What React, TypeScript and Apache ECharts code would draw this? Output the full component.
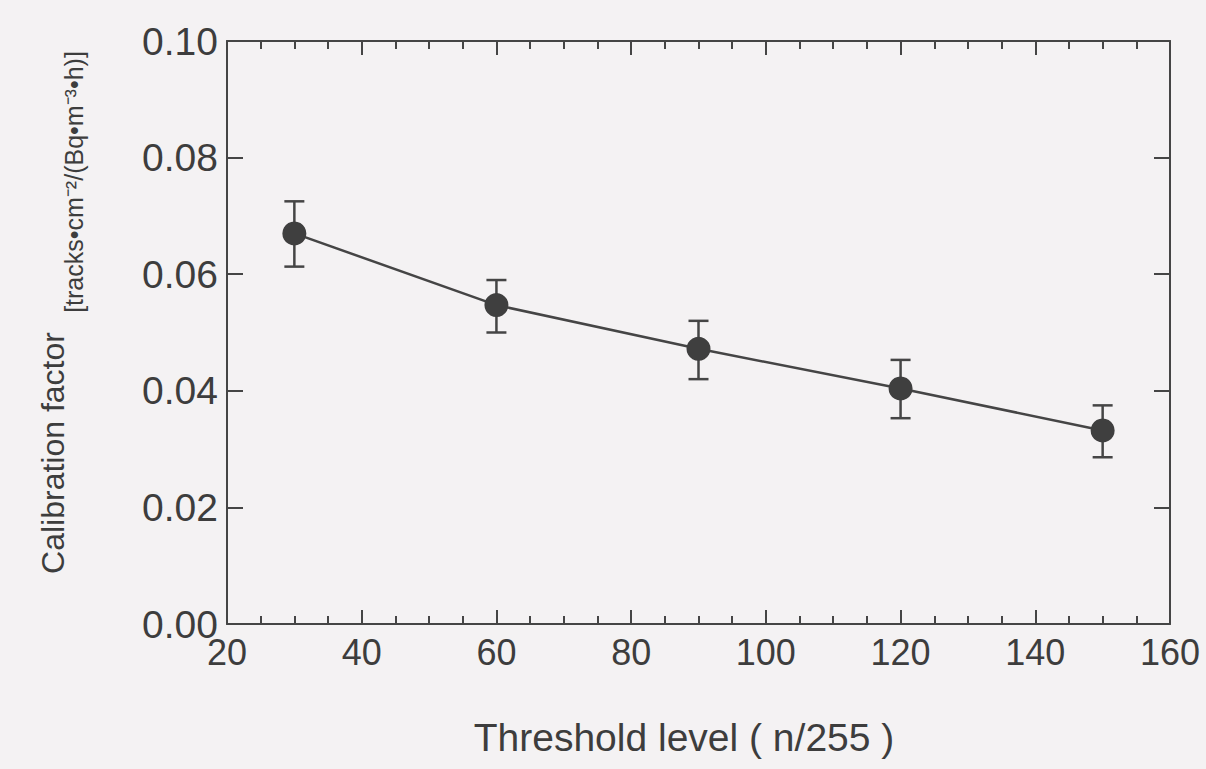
import React, { useEffect, useRef } from "react";
import * as echarts from "echarts";

// ---- data ----
const thresholds = [30, 60, 90, 120, 150];
const calibration = [0.067, 0.0547, 0.0472, 0.0404, 0.0332];
const errLow = [0.0613, 0.05, 0.042, 0.0353, 0.0286];
const errHigh = [0.0725, 0.059, 0.052, 0.0453, 0.0375];

const xMin = 20;
const xMax = 160;
const xStep = 20;
const yMin = 0;
const yMax = 0.1;
const yStep = 0.02;

const xTitle = "Threshold level ( n/255 )";
const yTitleMain = "Calibration factor";
const yTitleUnit = "[tracks•cm⁻²/(Bq•m⁻³•h)]";

const INK = "#454545";
const TEXT = "#3d3d3d";
const BG = "#f4f2f3";
const FONT = "'Liberation Sans', Arial, Helvetica, sans-serif";

export default function App() {
  const ref = useRef<HTMLDivElement>(null);

  useEffect(() => {
    if (!ref.current) return;
    const chart = echarts.init(ref.current, null, { renderer: "svg" });

    const lineStyle = { color: INK, width: 2 };
    const baseX = {
      type: "value" as const,
      min: xMin,
      max: xMax,
      interval: xStep,
      axisLine: { show: true, onZero: false, lineStyle },
      axisTick: { show: true, inside: true, length: 14, lineStyle },
      minorTick: { show: true, splitNumber: 4, length: 8, lineStyle },
      splitLine: { show: false },
      minorSplitLine: { show: false },
    };
    const baseY = {
      type: "value" as const,
      min: yMin,
      max: yMax,
      interval: yStep,
      axisLine: { show: true, onZero: false, lineStyle },
      axisTick: { show: true, inside: true, length: 16, lineStyle },
      splitLine: { show: false },
    };

    chart.setOption({
      animation: false,
      backgroundColor: BG,
      grid: { left: 227, right: 36, top: 41, bottom: 145, containLabel: false },
      xAxis: [
        {
          ...baseX,
          position: "bottom",
          axisLabel: {
            show: true,
            fontSize: 36,
            lineHeight: 30,
            color: TEXT,
            fontFamily: FONT,
            margin: 13,
          },
        },
        {
          ...baseX,
          position: "top",
          axisLabel: { show: false },
        },
      ],
      yAxis: [
        {
          ...baseY,
          position: "left",
          axisLabel: {
            show: true,
            fontSize: 39,
            lineHeight: 24,
            color: TEXT,
            fontFamily: FONT,
            margin: 9,
            formatter: (v: number) => v.toFixed(2),
          },
        },
        {
          ...baseY,
          position: "right",
          axisLabel: { show: false },
        },
      ],
      series: [
        {
          type: "custom",
          xAxisIndex: 0,
          yAxisIndex: 0,
          z: 1,
          data: thresholds.map((x, i) => [x, errLow[i], errHigh[i]]),
          encode: { x: 0, y: [1, 2] },
          renderItem: (_params: any, api: any) => {
            const x = api.value(0);
            const lo = api.coord([x, api.value(1)]);
            const hi = api.coord([x, api.value(2)]);
            const hw = 10;
            const st = { stroke: INK, lineWidth: 2.5 };
            return {
              type: "group",
              children: [
                { type: "line", shape: { x1: lo[0], y1: lo[1], x2: hi[0], y2: hi[1] }, style: st },
                { type: "line", shape: { x1: lo[0] - hw, y1: lo[1], x2: lo[0] + hw, y2: lo[1] }, style: st },
                { type: "line", shape: { x1: hi[0] - hw, y1: hi[1], x2: hi[0] + hw, y2: hi[1] }, style: st },
              ],
            };
          },
        },
        {
          type: "line",
          xAxisIndex: 0,
          yAxisIndex: 0,
          z: 3,
          data: thresholds.map((x, i) => [x, calibration[i]]),
          symbol: "circle",
          symbolSize: 24,
          showSymbol: true,
          lineStyle: { color: INK, width: 2.5 },
          itemStyle: { color: "#3f3f3f", borderWidth: 0 },
        },
      ],
      graphic: [
        {
          type: "text",
          x: 684,
          y: 737,
          style: {
            text: xTitle,
            fontSize: 39,
            fontFamily: FONT,
            fill: TEXT,
            align: "center",
            verticalAlign: "middle",
          },
        },
        {
          type: "text",
          x: 53,
          y: 453,
          rotation: Math.PI / 2,
          style: {
            text: yTitleMain,
            fontSize: 32,
            fontFamily: FONT,
            fill: TEXT,
            align: "center",
            verticalAlign: "middle",
          },
        },
        {
          type: "text",
          x: 74,
          y: 182,
          rotation: Math.PI / 2,
          style: {
            text: yTitleUnit,
            fontSize: 25,
            fontFamily: FONT,
            fill: TEXT,
            align: "center",
            verticalAlign: "middle",
          },
        },
      ],
    });

    return () => chart.dispose();
  }, []);

  return (
    <div
      ref={ref}
      style={{ position: "fixed", left: 0, top: 0, width: 1206, height: 769 }}
    />
  );
}
